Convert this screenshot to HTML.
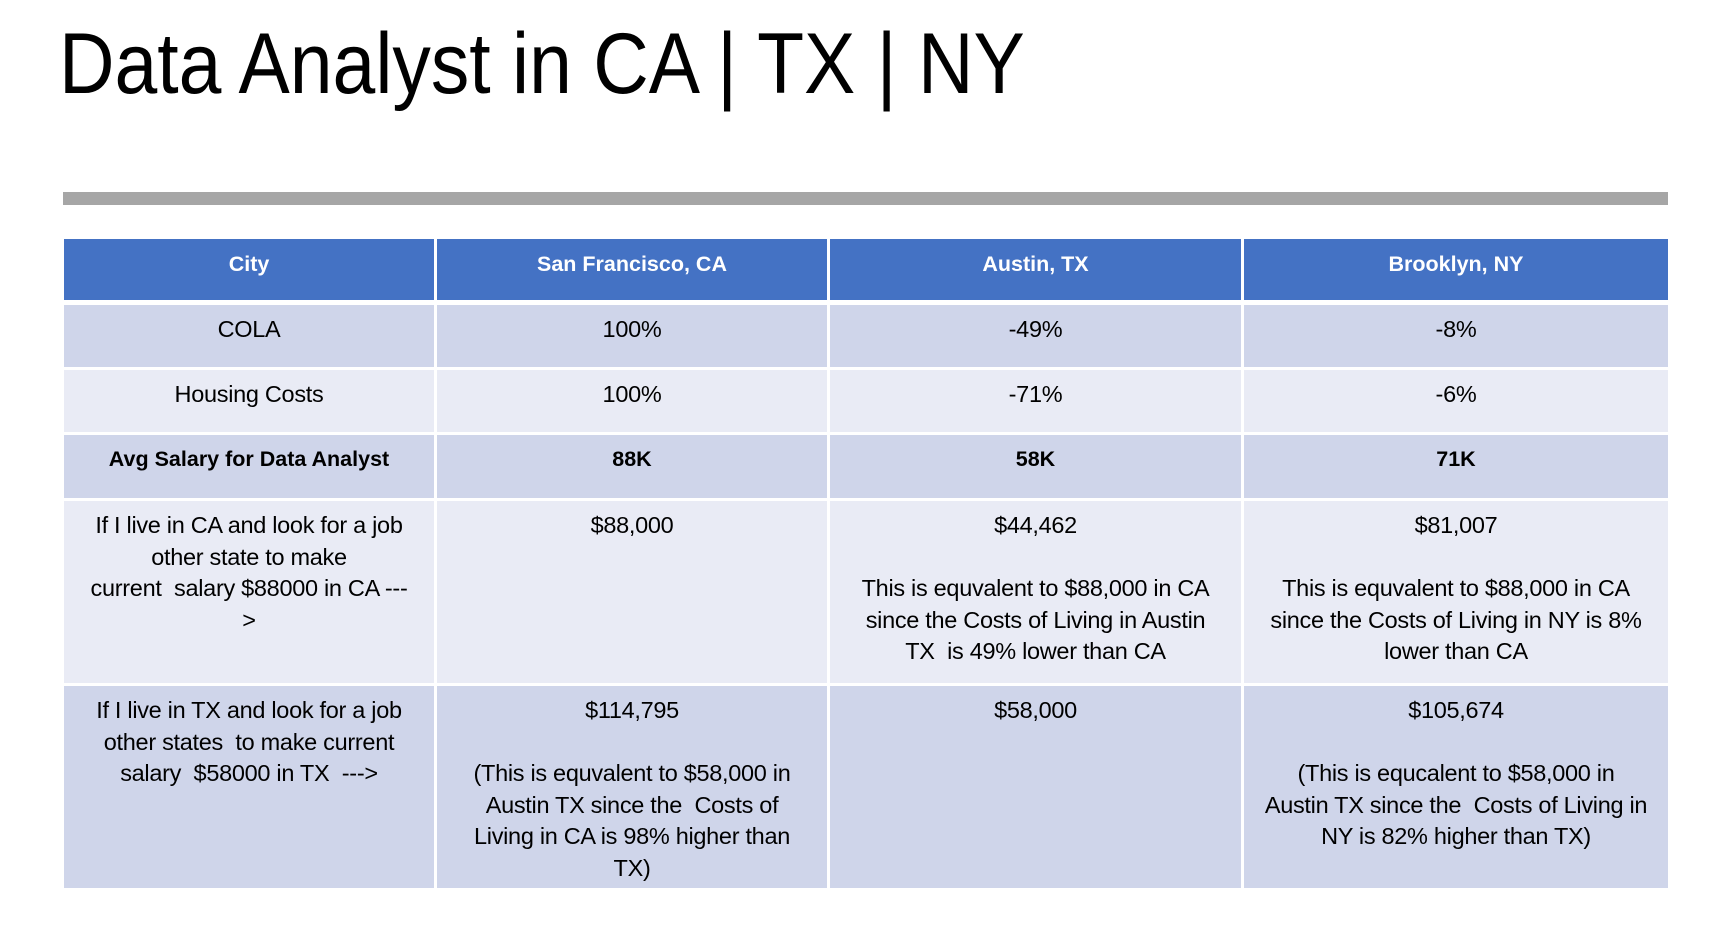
<!DOCTYPE html>
<html><head><meta charset="utf-8"><style>
body{margin:0;width:1720px;height:939px;background:#fff;position:relative;overflow:hidden;font-family:"Liberation Sans",sans-serif;}
#title{position:absolute;left:59px;top:14px;font-size:86px;line-height:100px;color:#000;transform:scaleX(0.894);transform-origin:left top;white-space:nowrap;}
#rule{position:absolute;left:63px;top:192px;width:1605px;height:13px;background:#a6a6a6;}
.c{position:absolute;box-sizing:border-box;text-align:center;font-size:23.5px;line-height:31.5px;padding-top:9px;color:#000;white-space:nowrap;letter-spacing:-0.3px;}
.h{background:#4472c4;color:#fff;font-weight:bold;padding-top:10px;font-size:21.5px;letter-spacing:0;}
.d{background:#cfd5ea;}
.l{background:#e9ebf5;}
.b{font-weight:bold;font-size:21.5px;letter-spacing:0;}
</style></head><body>
<div id="title">Data Analyst in CA | TX | NY</div>
<div id="rule"></div>
<div>
<div class="c h" style="left:64px;top:239px;width:370px;height:61px">City</div>
<div class="c h" style="left:437px;top:239px;width:390px;height:61px">San Francisco, CA</div>
<div class="c h" style="left:830px;top:239px;width:411px;height:61px">Austin, TX</div>
<div class="c h" style="left:1244px;top:239px;width:424px;height:61px">Brooklyn, NY</div>
<div class="c d" style="left:64px;top:305px;width:370px;height:62px">COLA</div>
<div class="c d" style="left:437px;top:305px;width:390px;height:62px">100%</div>
<div class="c d" style="left:830px;top:305px;width:411px;height:62px">-49%</div>
<div class="c d" style="left:1244px;top:305px;width:424px;height:62px">-8%</div>
<div class="c l" style="left:64px;top:370px;width:370px;height:62px">Housing Costs</div>
<div class="c l" style="left:437px;top:370px;width:390px;height:62px">100%</div>
<div class="c l" style="left:830px;top:370px;width:411px;height:62px">-71%</div>
<div class="c l" style="left:1244px;top:370px;width:424px;height:62px">-6%</div>
<div class="c d b" style="left:64px;top:435px;width:370px;height:63px">Avg Salary for Data Analyst</div>
<div class="c d b" style="left:437px;top:435px;width:390px;height:63px">88K</div>
<div class="c d b" style="left:830px;top:435px;width:411px;height:63px">58K</div>
<div class="c d b" style="left:1244px;top:435px;width:424px;height:63px">71K</div>
<div class="c l" style="left:64px;top:501px;width:370px;height:182px">If I live in CA and look for a job<br>other state to make<br>current &nbsp;salary $88000 in CA ---<br>&gt;</div>
<div class="c l" style="left:437px;top:501px;width:390px;height:182px">$88,000</div>
<div class="c l" style="left:830px;top:501px;width:411px;height:182px">$44,462<br><br>This is equvalent to $88,000 in CA<br>since the Costs of Living in Austin<br>TX &nbsp;is 49% lower than CA</div>
<div class="c l" style="left:1244px;top:501px;width:424px;height:182px">$81,007<br><br>This is equvalent to $88,000 in CA<br>since the Costs of Living in NY is 8%<br>lower than CA</div>
<div class="c d" style="left:64px;top:686px;width:370px;height:202px">If I live in TX and look for a job<br>other states &nbsp;to make current<br>salary &nbsp;$58000 in TX &nbsp;---&gt;</div>
<div class="c d" style="left:437px;top:686px;width:390px;height:202px">$114,795<br><br>(This is equvalent to $58,000 in<br>Austin TX since the &nbsp;Costs of<br>Living in CA is 98% higher than<br>TX)</div>
<div class="c d" style="left:830px;top:686px;width:411px;height:202px">$58,000</div>
<div class="c d" style="left:1244px;top:686px;width:424px;height:202px">$105,674<br><br>(This is equcalent to $58,000 in<br>Austin TX since the &nbsp;Costs of Living in<br>NY is 82% higher than TX)</div>
</div>
</body></html>
